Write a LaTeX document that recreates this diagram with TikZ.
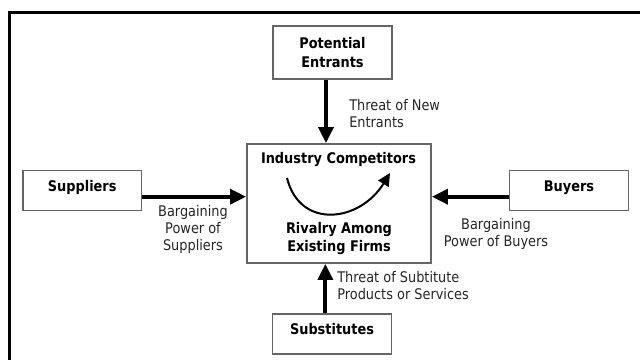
\documentclass[tikz,border=0pt]{standalone}
\usepackage{fontspec}
\setmainfont{DejaVu Sans}[FakeStretch=0.88]
\usetikzlibrary{arrows.meta}
\begin{document}
\begin{tikzpicture}[x=0.75pt,y=-0.75pt,
  force/.style={draw=black!60, line width=1.2pt, fill=white, align=center,
    inner sep=0pt, font=\fontsize{11}{13.7}\selectfont\bfseries},
  sidebox/.style={force, minimum width=89pt, minimum height=30pt,
    text height=8pt, text depth=7pt},
  bold/.style={inner sep=0pt, align=center, font=\fontsize{11}{13.5}\selectfont\bfseries},
  push/.style={line width=3pt, -{Triangle[length=12pt,width=11pt]}},
  note/.style={text=black!85, inner sep=0pt, font=\fontsize{11}{12.75}\selectfont}
]
\useasboundingbox (0,0) rectangle (640,360);
\clip (0,0) rectangle (640,360);
\fill[white] (0,0) rectangle (640,360);
% outer frame, running off the right and bottom edges
\draw[line width=2pt] (9.3,12.7) rectangle (700,420);

% the five forces
\node[force, minimum width=89.25pt, minimum height=39.75pt] (pe) at (332.5,52.5) {Potential\\Entrants};
\node[sidebox] (sup) at (82.2,190.7) {Suppliers};
\node[sidebox] (buy) at (569,190.7) {Buyers};
\node[sidebox] (sub) at (332,334) {Substitutes};
\node[force, minimum width=138pt, minimum height=89.25pt] (ic) at (339,203.5) {};

% contents of the central box
\node[bold] (ictitle) at (338.5,160) {Industry Competitors};
\node[bold] (rivalry) at (339,239) {Rivalry Among\\Existing Firms};
\coordinate (rstart) at (287,178);
\coordinate (rend) at (390,173);
\draw[line width=1.5pt, -{Triangle[length=9.5pt,width=9pt]}]
  (rstart) .. controls (300,230) and (360,222) .. (rend);

% arrows into the central box
\draw[push] ([xshift=-4.9pt]pe.south) -- ([xshift=-4.9pt]pe.south |- ic.north);
\draw[push] ([xshift=-5pt]sub.north) -- ([xshift=-5pt]sub.north |- ic.south);
\draw[push] ([yshift=-4.5pt]sup.east) -- ([yshift=-4.5pt]sup.east -| ic.west);
\draw[push] ([yshift=-4.5pt]buy.west) -- ([yshift=-4.5pt]buy.west -| ic.east);

% arrow labels
\node[note, anchor=west, align=left] (lnew) at (349,114) {Threat of New\\Entrants};
\node[note, align=center] (lsup) at (193,229) {Bargaining\\Power of\\Suppliers};
\node[note, align=center] (lbuy) at (496,234) {Bargaining\\Power of Buyers};
\node[note, anchor=west, align=left] (lsub) at (337,285.5) {Threat of Subtitute\\Products or Services};
\end{tikzpicture}
\end{document}
